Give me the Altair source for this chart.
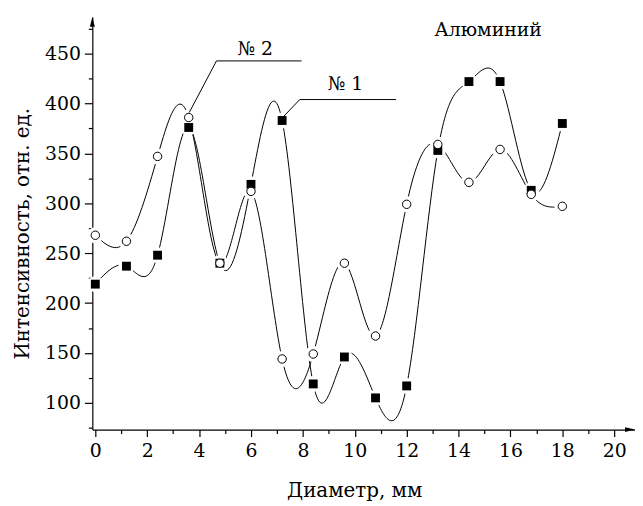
import altair as alt
import pandas as pd

# ---- data ----
DIAM = [0, 1.2, 2.4, 3.6, 4.8, 6.0, 7.2, 8.4, 9.6, 10.8, 12.0, 13.2, 14.4, 15.6, 16.8, 18.0]
SERIES1 = [219, 237, 248, 376, 240, 319, 383, 119, 146, 105, 117, 353, 422, 422, 313, 380]   # № 1, filled squares
SERIES2 = [268, 262, 347, 386, 240, 312, 144, 149, 240, 167, 299, 359, 321, 354, 309, 297]   # № 2, open circles

X_TICKS = [0, 2, 4, 6, 8, 10, 12, 14, 16, 18, 20]
X_MINOR = [1, 3, 5, 7, 9, 11, 13, 15, 17, 19]
Y_TICKS = [100, 150, 200, 250, 300, 350, 400, 450]
Y_MINOR = [75, 125, 175, 225, 275, 325, 375, 425, 475]

LABELS = ["№ 2", "№ 1", "Алюминий"]
LABEL_X = [6.16, 9.64, 15.14]
LABEL_Y = [454.7, 419.9, 473.6]

LEADER_GRP = ["n2", "n2", "n2", "n1", "n1", "n1"]
LEADER_X = [3.62, 4.67, 7.95, 7.22, 7.88, 11.59]
LEADER_Y = [391, 442.7, 442.7, 386, 404.0, 404.0]

XMIN, XMAX = -0.115, 20.8
YMIN, YMAX = 73.2, 486.8
W, H = 547, 416
FONT = "DejaVu Serif"

df = pd.DataFrame({
    "x": DIAM + DIAM,
    "y": SERIES1 + SERIES2,
    "s": ["1"] * len(DIAM) + ["2"] * len(DIAM),
})
lead = pd.DataFrame({"x": LEADER_X, "y": LEADER_Y, "g": LEADER_GRP, "i": list(range(len(LEADER_X)))})
txt = pd.DataFrame({"x": LABEL_X, "y": LABEL_Y, "t": LABELS})

xs = alt.Scale(domain=[XMIN, XMAX], nice=False, zero=False)
ys = alt.Scale(domain=[YMIN, YMAX], nice=False, zero=False)

x_axis = alt.Axis(values=X_TICKS, format="d", orient="bottom", title="Диаметр, мм",
                  tickSize=7, labelPadding=5, titlePadding=20, titleX=264, grid=False)
y_axis = alt.Axis(values=Y_TICKS, format="d", orient="left", title="Интенсивность, отн. ед.",
                  tickSize=8, labelPadding=4, titlePadding=12, titleY=218, grid=False)

base = alt.Chart(df)

lines = base.mark_line(interpolate="natural", color="black", strokeWidth=1).encode(
    x=alt.X("x:Q", scale=xs, axis=x_axis),
    y=alt.Y("y:Q", scale=ys, axis=y_axis),
    detail="s:N",
)

minor = base.mark_point(opacity=0).encode(
    x=alt.X("x:Q", scale=xs, axis=alt.Axis(values=X_MINOR, orient="bottom", labels=False,
                                             tickSize=4, domain=False, title=None, grid=False)),
    y=alt.Y("y:Q", scale=ys, axis=alt.Axis(values=Y_MINOR, orient="left", labels=False,
                                             tickSize=4, domain=False, title=None, grid=False)),
)

halo = base.mark_point(filled=True, color="white", opacity=1, size=260, shape="circle").encode(
    x=alt.X("x:Q", scale=xs, axis=None),
    y=alt.Y("y:Q", scale=ys, axis=None),
)

squares = base.transform_filter(alt.datum.s == "1").mark_point(
    shape="square", filled=True, color="black", opacity=1, size=80
).encode(x=alt.X("x:Q", scale=xs, axis=None), y=alt.Y("y:Q", scale=ys, axis=None))

circles = base.transform_filter(alt.datum.s == "2").mark_point(
    shape="circle", filled=True, fill="white", stroke="black", strokeWidth=1, opacity=1, size=72
).encode(x=alt.X("x:Q", scale=xs, axis=None), y=alt.Y("y:Q", scale=ys, axis=None))

leaders = alt.Chart(lead).mark_line(color="black", strokeWidth=1).encode(
    x=alt.X("x:Q", scale=xs, axis=None),
    y=alt.Y("y:Q", scale=ys, axis=None),
    detail="g:N",
    order="i:Q",
)

texts = alt.Chart(txt).mark_text(font=FONT, fontSize=19, color="black", baseline="middle").encode(
    x=alt.X("x:Q", scale=xs, axis=None),
    y=alt.Y("y:Q", scale=ys, axis=None),
    text="t:N",
)

arrow_df = pd.DataFrame({"a": [0]})
y_arrow = alt.Chart(arrow_df).mark_point(
    shape="M0,-1L-0.5,1L0.5,1Z", filled=True, color="black", opacity=1, size=100
).encode(x=alt.value(0), y=alt.value(5))
x_arrow = alt.Chart(arrow_df).mark_point(
    shape="M1,0L-1,-0.5L-1,0.5Z", filled=True, color="black", opacity=1, size=100
).encode(x=alt.value(W - 5), y=alt.value(H))

chart = alt.layer(
    lines, minor, halo, squares, circles, leaders, texts, y_arrow, x_arrow
).resolve_axis(x="independent", y="independent").properties(
    width=W, height=H,
    padding={"left": 85, "top": 7, "right": 0, "bottom": 75},
    autosize=alt.AutoSizeParams(type="none"),
).configure_view(stroke=None).configure_axis(
    labelFont=FONT, titleFont=FONT, labelFontSize=19, titleFontSize=20,
    titleFontWeight="normal", labelColor="black", titleColor="black",
    domainColor="black", tickColor="black", domainWidth=1.2, tickWidth=1.2,
)

chart.save("out.html", embed_options={"renderer": "svg", "actions": False})
